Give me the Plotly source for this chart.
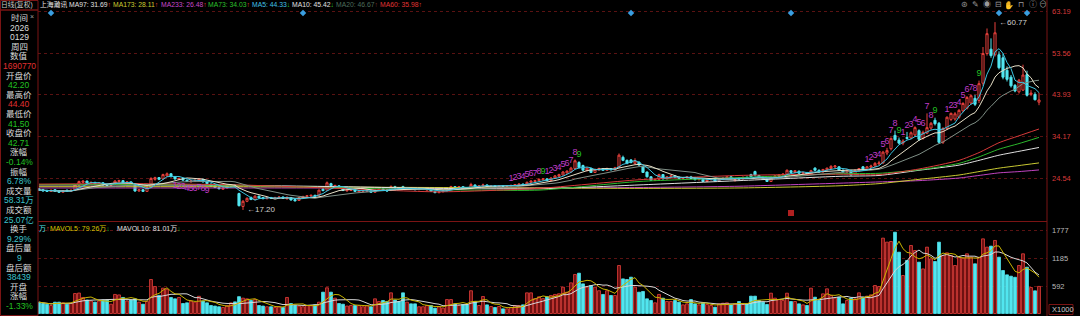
import plotly.graph_objects as go
import pandas as pd

W, H = 1080, 316

# ---------------- data ----------------
opens = [
    22.1, 21.9, 21.7, 21.5, 21.9, 21.6, 21.3, 21.8, 21.5, 21.8,
    23.0, 23.6, 23.9, 23.3, 23.6, 23.2, 23.5, 23.0, 22.9, 23.2,
    23.8, 24.0, 23.5, 23.7, 23.1, 21.6, 21.9, 21.5, 22.4, 24.3,
    24.7, 24.4, 25.1, 25.6, 24.9, 24.3, 24.5, 24.1, 23.7, 23.9,
    24.0, 24.3, 23.7, 23.2, 22.8, 22.4, 22.0, 22.3, 22.7, 23.0,
    21.0, 18.0, 19.2, 20.1, 19.6, 20.4, 20.1, 19.8, 20.1, 19.9,
    20.0, 20.2, 19.8, 20.0, 19.6, 19.4, 20.0, 20.3, 20.4, 20.6,
    20.6, 22.0, 21.8, 23.3, 22.6, 22.8, 22.2, 21.6, 21.7, 21.9,
    21.4, 21.5, 21.5, 21.6, 21.3, 21.8, 22.1, 21.8, 21.7, 22.6,
    22.4, 22.6, 22.0, 22.3, 22.1, 21.9, 22.0, 21.8, 21.9, 21.5,
    21.2, 21.4, 21.7, 22.3, 22.6, 22.4, 22.6, 22.4, 22.2, 23.0,
    22.6, 22.8, 23.0, 22.7, 22.8, 22.6, 22.8, 22.7, 22.8, 22.9,
    23.0, 23.2, 23.0, 23.6, 23.8, 24.0, 24.2, 24.4, 24.0, 24.6,
    25.0, 25.3, 25.8, 26.0, 26.8, 28.2, 27.5, 26.3, 26.8, 25.9,
    26.5, 26.8, 26.4, 26.8, 26.5, 27.1, 29.4, 28.7, 28.8, 28.0,
    28.3, 27.2, 26.0, 24.9, 24.1, 24.3, 25.4, 24.4, 24.9, 25.1,
    24.8, 24.5, 24.7, 24.9, 24.5, 24.2, 24.3, 23.8, 24.2, 24.3,
    23.9, 24.3, 24.5, 24.9, 24.0, 24.6, 24.4, 24.8, 25.4, 26.1,
    25.2, 24.8, 24.3, 23.8, 24.8, 25.0, 25.3, 25.5, 26.3, 25.9,
    26.2, 25.7, 25.9, 25.5, 26.9, 26.4, 26.0, 26.5, 26.8, 27.2,
    27.2, 26.4, 26.0, 26.3, 25.5, 26.3, 27.2, 26.6, 27.1, 27.4,
    27.9, 28.1, 30.4, 31.4, 34.5, 33.4, 32.7, 34.0, 33.9, 34.6,
    35.6, 33.8, 35.0, 36.2, 38.0, 37.3, 32.9, 36.1, 38.2, 38.3,
    38.7, 40.2, 40.8, 42.0, 43.1, 42.6, 46.6, 53.5, 54.5, 53.2,
    53.2, 52.5, 49.6, 48.0, 46.1, 44.6, 45.0, 48.6, 44.0, 44.0,
    42.20,
]
highs = [
    22.3, 22.1, 21.9, 21.9, 22.0, 21.8, 21.8, 21.9, 21.9, 23.2,
    24.0, 24.1, 24.0, 23.8, 23.7, 23.6, 23.6, 23.1, 23.3, 24.1,
    24.2, 24.1, 23.9, 23.8, 23.2, 22.0, 22.0, 22.5, 24.8, 24.9,
    24.8, 25.6, 25.9, 25.7, 25.0, 24.7, 24.6, 24.2, 24.1, 24.2,
    24.6, 24.4, 23.8, 23.3, 22.9, 22.5, 22.4, 22.8, 23.2, 23.1,
    21.2, 19.5, 20.1, 20.3, 20.6, 20.5, 20.2, 20.2, 20.2, 20.2,
    20.3, 20.3, 20.4, 20.1, 19.7, 20.1, 20.5, 20.6, 20.7, 20.7,
    21.9, 22.4, 23.8, 23.5, 23.0, 22.9, 22.3, 21.9, 22.0, 22.0,
    21.7, 21.7, 21.8, 21.7, 21.9, 22.2, 22.2, 21.9, 22.9, 22.8,
    22.5, 22.8, 22.4, 22.4, 22.2, 22.2, 22.2, 22.1, 22.0, 21.6,
    21.5, 21.7, 22.4, 22.8, 22.7, 22.7, 22.7, 22.5, 23.5, 23.1,
    22.9, 23.3, 23.1, 22.9, 22.9, 22.9, 22.9, 22.9, 23.0, 23.2,
    23.3, 23.3, 23.8, 24.1, 24.2, 24.5, 24.6, 24.6, 24.8, 25.3,
    25.6, 26.2, 26.4, 27.2, 28.9, 28.5, 27.7, 27.1, 27.0, 26.8,
    27.0, 26.9, 27.0, 26.9, 27.2, 30.3, 29.8, 28.9, 29.0, 29.2,
    28.4, 27.3, 26.1, 25.0, 24.4, 25.6, 25.5, 25.0, 25.3, 25.2,
    24.9, 24.8, 25.0, 25.1, 24.6, 24.5, 24.4, 24.3, 24.6, 24.4,
    24.4, 24.7, 25.0, 25.0, 24.3, 24.8, 24.9, 24.9, 25.6, 26.3,
    25.3, 24.9, 24.4, 25.0, 25.3, 25.5, 25.7, 26.6, 26.4, 26.4,
    26.3, 26.0, 26.0, 26.5, 27.1, 26.6, 26.7, 27.0, 27.6, 27.6,
    27.3, 26.6, 26.6, 26.5, 26.6, 26.9, 27.4, 27.4, 27.7, 28.3,
    28.6, 30.9, 31.6, 34.0, 35.6, 34.0, 33.6, 35.3, 35.4, 36.6,
    35.9, 35.6, 39.6, 37.6, 38.6, 37.6, 36.4, 38.9, 39.8, 39.9,
    40.6, 42.2, 43.6, 44.0, 43.9, 47.2, 55.0, 59.3, 57.0, 60.77,
    54.0, 53.5, 50.5, 48.5, 46.4, 47.6, 50.9, 49.5, 45.0, 44.5,
    44.40,
]
lows = [
    21.6, 21.5, 21.4, 21.4, 21.4, 21.2, 21.2, 21.4, 21.4, 21.7,
    22.9, 23.4, 23.3, 23.2, 23.1, 23.0, 22.9, 22.7, 22.8, 23.1,
    23.6, 23.4, 23.3, 23.0, 21.4, 21.4, 21.4, 21.4, 22.3, 24.0,
    24.1, 24.3, 24.9, 24.8, 24.2, 24.1, 24.0, 23.7, 23.6, 23.7,
    23.9, 23.6, 23.2, 22.6, 22.3, 22.0, 21.9, 22.2, 22.5, 22.4,
    18.0, 17.20, 19.0, 19.5, 19.5, 19.9, 19.7, 19.7, 19.8, 19.8,
    19.9, 19.8, 19.6, 19.4, 19.2, 19.3, 19.9, 20.2, 20.3, 20.3,
    20.5, 21.5, 21.7, 22.6, 22.4, 22.2, 21.6, 21.5, 21.6, 21.4,
    21.3, 21.3, 21.4, 21.2, 21.2, 21.6, 21.7, 21.5, 21.6, 22.2,
    22.0, 21.9, 21.9, 22.0, 21.8, 21.8, 21.9, 21.7, 21.4, 21.1,
    21.1, 21.3, 21.6, 22.2, 22.3, 22.3, 22.3, 22.1, 22.1, 22.5,
    22.5, 22.6, 22.6, 22.6, 22.5, 22.5, 22.6, 22.6, 22.7, 22.8,
    22.9, 22.9, 22.9, 23.4, 23.6, 23.8, 24.0, 23.9, 23.9, 24.5,
    24.8, 25.2, 25.6, 25.9, 26.6, 26.9, 26.3, 26.2, 25.8, 25.8,
    26.3, 26.3, 26.3, 26.4, 26.4, 27.0, 28.5, 27.8, 28.0, 27.9,
    27.5, 25.8, 24.7, 24.0, 23.9, 24.2, 24.3, 24.3, 24.7, 24.7,
    24.4, 24.4, 24.6, 24.4, 24.1, 24.1, 23.7, 23.7, 24.1, 23.8,
    23.8, 24.2, 24.4, 24.4, 23.8, 24.3, 24.3, 24.5, 24.8, 25.2,
    24.6, 24.3, 23.7, 23.7, 24.7, 24.9, 25.2, 25.4, 25.8, 25.8,
    25.6, 25.6, 25.4, 25.4, 26.3, 25.9, 25.9, 26.3, 26.6, 26.9,
    26.3, 25.9, 25.8, 25.1, 25.4, 26.1, 26.3, 26.5, 26.9, 27.2,
    27.6, 27.9, 29.9, 31.0, 33.2, 32.4, 32.2, 33.5, 33.6, 34.2,
    33.2, 33.5, 34.8, 35.8, 36.8, 32.6, 32.5, 35.8, 37.8, 37.9,
    38.4, 39.9, 40.5, 41.6, 41.3, 42.0, 46.0, 53.0, 52.5, 52.8,
    49.8, 47.5, 47.0, 45.6, 44.5, 44.2, 44.8, 43.5, 43.6, 42.6,
    41.50,
]
closes = [
    21.8, 21.6, 21.5, 21.8, 21.5, 21.3, 21.7, 21.5, 21.8, 23.0,
    23.8, 23.9, 23.4, 23.6, 23.2, 23.5, 23.0, 22.9, 23.2, 23.9,
    24.0, 23.5, 23.7, 23.1, 21.6, 21.9, 21.5, 22.4, 24.5, 24.7,
    24.3, 25.4, 25.6, 24.9, 24.4, 24.5, 24.1, 23.8, 24.0, 24.1,
    24.4, 23.7, 23.3, 22.7, 22.4, 22.1, 22.3, 22.7, 23.0, 22.6,
    18.2, 19.2, 19.9, 19.6, 20.4, 20.0, 19.8, 20.1, 19.9, 20.1,
    20.2, 19.9, 20.1, 19.5, 19.3, 20.0, 20.3, 20.5, 20.6, 20.4,
    21.8, 21.7, 23.5, 22.8, 22.9, 22.3, 21.7, 21.8, 21.9, 21.5,
    21.6, 21.6, 21.7, 21.3, 21.8, 22.1, 21.8, 21.6, 22.6, 22.3,
    22.1, 22.0, 22.3, 22.1, 21.9, 22.1, 22.1, 22.0, 21.5, 21.2,
    21.4, 21.6, 22.3, 22.6, 22.4, 22.6, 22.4, 22.2, 23.1, 22.6,
    22.8, 23.0, 22.7, 22.8, 22.6, 22.8, 22.7, 22.8, 22.9, 23.1,
    23.2, 23.0, 23.6, 23.9, 24.0, 24.3, 24.4, 24.0, 24.6, 25.1,
    25.4, 26.0, 26.2, 26.9, 28.6, 27.0, 26.4, 26.9, 25.9, 26.6,
    26.8, 26.4, 26.8, 26.5, 27.0, 29.9, 28.7, 28.0, 28.2, 28.6,
    27.6, 25.9, 24.9, 24.1, 24.3, 25.4, 24.4, 24.9, 25.1, 24.8,
    24.5, 24.7, 24.9, 24.5, 24.2, 24.4, 23.8, 24.2, 24.5, 23.9,
    24.3, 24.6, 24.9, 24.5, 24.2, 24.4, 24.8, 24.6, 24.9, 25.3,
    24.7, 24.4, 23.8, 24.8, 25.1, 25.3, 25.5, 26.4, 25.9, 26.3,
    25.7, 25.9, 25.5, 26.3, 26.4, 26.0, 26.6, 26.9, 27.3, 27.4,
    26.4, 26.0, 26.4, 25.4, 26.4, 26.8, 26.5, 27.2, 27.4, 28.0,
    28.1, 30.6, 31.0, 33.8, 33.5, 32.7, 33.2, 33.8, 35.1, 36.3,
    33.6, 35.2, 36.3, 37.3, 37.2, 32.9, 36.1, 38.7, 39.6, 39.5,
    40.3, 41.9, 43.3, 43.7, 41.7, 46.5, 53.5, 58.1, 53.0, 58.3,
    50.2, 48.0, 47.5, 46.0, 44.8, 47.3, 48.5, 43.8, 44.3, 42.77,
    42.71,
]
volumes = [
    243, 215, 200, 172, 244, 244, 230, 200, 220, 430,
    440, 345, 290, 270, 244, 270, 290, 290, 200, 410,
    400, 345, 270, 290, 316, 244, 200, 260, 732, 580,
    390, 545, 520, 345, 316, 345, 215, 230, 270, 244,
    370, 270, 230, 172, 160, 145, 130, 172, 230, 250,
    362, 330, 316, 280, 300, 172, 160, 145, 145, 130,
    145, 130, 345, 215, 172, 160, 145, 172, 172, 186,
    244, 459, 553, 459, 330, 215, 200, 160, 172, 172,
    172, 145, 172, 145, 316, 259, 280, 259, 445, 290,
    259, 445, 244, 208, 208, 145, 145, 172, 172, 115,
    145, 115, 300, 300, 208, 172, 194, 194, 490, 259,
    172, 366, 186, 150, 130, 150, 100, 100, 130, 172,
    172, 186, 445, 445, 320, 360, 320, 360, 388, 410,
    425, 567, 459, 660, 840, 868, 638, 567, 603, 567,
    490, 410, 490, 388, 388, 1033, 745, 732, 782, 567,
    459, 474, 316, 280, 230, 410, 330, 259, 259, 280,
    244, 186, 208, 300, 208, 186, 230, 194, 172, 136,
    208, 222, 230, 186, 208, 258, 194, 208, 373, 373,
    280, 244, 194, 437, 330, 301, 280, 437, 258, 258,
    208, 186, 172, 545, 351, 280, 423, 531, 387, 330,
    351, 208, 280, 330, 316, 445, 351, 373, 402, 603,
    581, 1622, 1536, 1550, 1750, 1320, 818, 1141, 1464, 1356,
    1105, 960, 1428, 1177, 1120, 1536, 1248, 1306, 1248, 1033,
    1212, 1190, 1285, 1212, 1070, 1212, 1607, 1428, 1450, 1572,
    1212, 925, 832, 803, 780, 1033, 1285, 997, 560, 488,
    583,
]

# long moving averages at sample candles
ma_idx = [0, 25, 50, 75, 100, 125, 150, 175, 200, 210, 220, 230, 235, 240, 245, 250]
ma60 = [23.2, 23.3, 23.0, 22.2, 21.4, 22.2, 24.2, 25.2, 25.5, 25.4, 26.7, 28.7, 30.5, 32.8, 34.4, 35.98]
ma73 = [23.1, 23.1, 22.9, 22.3, 21.9, 21.8, 23.8, 24.7, 25.6, 25.7, 26.5, 28.0, 29.5, 31.3, 32.6, 34.03]
ma97 = [23.0, 23.0, 22.9, 22.6, 22.2, 22.1, 23.0, 24.0, 25.0, 25.2, 26.4, 27.6, 28.7, 29.9, 30.8, 31.69]
ma173 = [22.6, 22.6, 22.6, 22.5, 22.4, 22.3, 22.2, 22.3, 22.8, 23.3, 24.3, 25.3, 26.1, 26.9, 27.5, 28.11]
ma233 = [22.3, 22.3, 22.3, 22.3, 22.3, 22.3, 22.4, 22.7, 23.4, 23.7, 24.0, 24.6, 25.2, 25.8, 26.1, 26.48]

price_ticks = [63.19, 53.56, 43.93, 34.17, 24.54]
vol_ticks = [1777, 1185, 592]

td_up_starts = [118, 127, 207, 216, 227]
td_down_starts = [34]
event_idx = [3, 66, 148, 188, 240, 247]
hi_idx, lo_idx = 239, 51

legend_texts = ["日线(复权)", "上海瀚讯", "MA97: 31.69", "MA173: 28.11", "MA233: 26.48",
                "MA73: 34.03", "MA5: 44.33", "MA10: 45.42", "MA20: 46.67", "MA60: 35.98"]
legend_arrows = ["", "", "↑", "↑", "↑", "↑", "↓", "↓", "↑", "↑"]

left_labels = ["时间", "2026", "0129", "周四", "数值", "1690770", "开盘价", "42.20", "最高价", "44.40",
               "最低价", "41.50", "收盘价", "42.71", "涨幅", "-0.14%", "振幅", "6.78%", "成交量", "58.31万",
               "成交额", "25.07亿", "换手", "9.29%", "盘后量", "9", "盘后额", "38439", "开盘", "涨幅", "-1.33%"]

# ---------------- styling ----------------
FONT = "Liberation Sans, Noto Sans CJK SC, sans-serif"
RED = "#e8403c"
CYAN = "#52e6f0"
GREEN = "#22c022"
BORDER = "#7a1414"
GRID = "#5a1212"

def fx(p):
    return p / W

def fy(p):
    return 1 - p / H

PL, PR = 38, 1047
PT, PB = 9, 220
VT, VB = 222, 315
K = (63.19 - 24.54) / (178.3 - 11.7)
y_hi = 63.19 + (11.7 - PT) * K
y_lo = 24.54 - (PB - 178.3) * K
VK = 592 / 27.5
v_hi = (313.5 - VT) * VK
v_lo = (313.5 - VB) * VK
x_lo = -0.25
x_hi = x_lo + (PR - PL) / 4.0

n = len(closes)
x = list(range(n))
cs = pd.Series(closes)
vs = pd.Series(volumes)

fig = go.Figure()

# long MAs
for vals, col in [(ma233, "#c044c0"), (ma173, "#c8c832"), (ma97, "#e0e0e0"),
                  (ma73, "#2cb82c"), (ma60, "#d83a3a")]:
    fig.add_trace(go.Scatter(x=ma_idx, y=vals, mode="lines", line=dict(color=col, width=1, shape="spline", smoothing=0.6),
                             hoverinfo="skip", showlegend=False))
# short MAs
for win, col in [(20, "#7f8f86"), (10, "#e8e0c8"), (5, "#3cc4e0")]:
    fig.add_trace(go.Scatter(x=x, y=cs.rolling(win, min_periods=1).mean(), mode="lines",
                             line=dict(color=col, width=1), hoverinfo="skip", showlegend=False))

fig.add_trace(go.Candlestick(
    x=x, open=opens, high=highs, low=lows, close=closes,
    increasing=dict(line=dict(color=RED, width=1), fillcolor="#000000"),
    decreasing=dict(line=dict(color=CYAN, width=1), fillcolor=CYAN),
    whiskerwidth=0, hoverinfo="skip", showlegend=False))

# TD sequence numbers
tx, ty, tt, tc = [], [], [], []
for s in td_up_starts:
    for k in range(9):
        i = s + k
        tx.append(i)
        ty.append(highs[i] + 1.5)
        tt.append(str(k + 1))
        tc.append(GREEN if k == 8 else "#c03cc8")
for s in td_down_starts:
    for k in range(9):
        i = s + k
        tx.append(i)
        ty.append(lows[i] - 1.5)
        tt.append(str(k + 1))
        tc.append("#c03cc8")
fig.add_trace(go.Scatter(x=tx, y=ty, text=tt, mode="text", textposition="middle center",
                         textfont=dict(color=tc, size=9, family=FONT), hoverinfo="skip", showlegend=False))

# event diamonds
fig.add_trace(go.Scatter(x=event_idx, y=[y_hi - 4 * K] * len(event_idx), mode="markers",
                         marker=dict(symbol="diamond", size=5, color="#3a9ee0"), hoverinfo="skip", showlegend=False))
fig.add_trace(go.Scatter(x=[188], y=[y_lo + 7 * K], mode="markers",
                         marker=dict(symbol="square", size=6, color="#b02020"), hoverinfo="skip", showlegend=False))

# volume
vcol = [RED if c >= o else CYAN for o, c in zip(opens, closes)]
vfill = ["#6a1010" if c >= o else CYAN for o, c in zip(opens, closes)]
fig.add_trace(go.Bar(x=x, y=volumes, width=0.72, marker=dict(color=vfill, line=dict(color=vcol, width=0.8)),
                     xaxis="x2", yaxis="y2", hoverinfo="skip", showlegend=False))
fig.add_trace(go.Scatter(x=x, y=vs.rolling(10, min_periods=1).mean(), mode="lines", line=dict(color="#d8d8d8", width=1),
                         xaxis="x2", yaxis="y2", hoverinfo="skip", showlegend=False))
fig.add_trace(go.Scatter(x=x, y=vs.rolling(5, min_periods=1).mean(), mode="lines", line=dict(color="#c8b400", width=1),
                         xaxis="x2", yaxis="y2", hoverinfo="skip", showlegend=False))

ann = []

def text(t, xp, yp, color, size=9, xanchor="left", family=FONT):
    ann.append(dict(text=t, x=fx(xp), y=fy(yp), xref="paper", yref="paper", xanchor=xanchor, yanchor="middle",
                    showarrow=False, borderpad=0, font=dict(color=color, size=size, family=family)))

# top legend
leg_x = [0, 39, 68, 112, 160, 207, 251, 291, 335, 379]
leg_c = ["#c8c8c8", "#e8e8e8", "#e0e0e0", "#cccc30", "#c848c8", "#2cc02c", "#40c0e8", "#e0e0e0", "#4c6e5c", "#e03434"]
for t, a, xp, c in zip(legend_texts, legend_arrows, leg_x, leg_c):
    ac = RED if a == "↑" else GREEN
    if t.startswith("MA20"):
        ac = "#7a3030"
    s = t + (f"<span style='color:{ac}'>{a}</span>" if a else "")
    text(s, xp, 5, c, size=6.8)

# volume legend
text(f"<span style='color:{CYAN}'>万</span><span style='color:{RED}'>↑</span>", 38, 229, CYAN, size=7)
text(f"MAVOL5: 79.26万<span style='color:{GREEN}'>↓</span>", 49, 229, "#d8c800", size=7)
text(f"MAVOL10: 81.01万<span style='color:{GREEN}'>↓</span>", 116, 229, "#e0e0e0", size=7)

# left info panel
for k, t in enumerate(left_labels):
    yp = 18 + k * 9.6
    if k < 5 or (k % 2 == 0 and k < 28) or k in (28, 29):
        c = "#dcdcdc"
    elif t.startswith("-") or t in ("42.20", "41.50", "42.71"):
        c = GREEN
    elif t in ("1690770", "44.40"):
        c = "#e03030"
    else:
        c = "#3cc4cc"
    text(t, 19, yp, c, size=8.5, xanchor="center")
text("×", 32, 17, "#a0a0a0", size=7, xanchor="center")

# right axis labels
for v in price_ticks:
    ann.append(dict(text=f"{v:.2f}", x=fx(1051), y=v, xref="paper", yref="y", xanchor="left", yanchor="middle",
                    showarrow=False, borderpad=0, font=dict(color="#d83a3a", size=7.5, family=FONT)))
for v in vol_ticks:
    ann.append(dict(text=str(v), x=fx(1051), y=v, xref="paper", yref="y2", xanchor="left", yanchor="middle",
                    showarrow=False, borderpad=0, font=dict(color="#b8b8b8", size=7.5, family=FONT)))
text("X1000", 1051, 309.5, "#c8c8c8", size=7.5)

# high / low marks
ann.append(dict(text="←" + f"{highs[hi_idx]:.2f}", x=hi_idx + 0.6, y=highs[hi_idx], xref="x", yref="y",
                xanchor="left", yanchor="middle", showarrow=False, font=dict(color="#d0d0d0", size=8, family=FONT)))
ann.append(dict(text="←" + f"{lows[lo_idx]:.2f}", x=lo_idx + 0.6, y=lows[lo_idx], xref="x", yref="y",
                xanchor="left", yanchor="middle", showarrow=False, font=dict(color="#d0d0d0", size=8, family=FONT)))

# top-right toolbar glyphs
for k, g in enumerate(["⊛", "✎", "◉", "⊟", "✋", "⊓", "ⓘ", "⊖"]):
    text(g, [964, 975, 987, 998, 1009, 1021, 1033, 1043][k], 5, "#9a9a9a", size=8, xanchor="center")

shapes = [
    dict(type="rect", xref="paper", yref="paper", x0=fx(0.5), x1=fx(PL), y0=fy(315.5), y1=fy(10), line=dict(color=BORDER, width=1)),
    dict(type="rect", xref="paper", yref="paper", x0=fx(0.5), x1=fx(PL), y0=fy(10), y1=fy(0.5), line=dict(color=BORDER, width=1)),
    dict(type="line", xref="paper", yref="paper", x0=fx(PR), x1=fx(PR), y0=0, y1=1, line=dict(color=BORDER, width=1)),
    dict(type="line", xref="paper", yref="paper", x0=fx(PL), x1=fx(PR), y0=fy(221.5), y1=fy(221.5), line=dict(color=BORDER, width=1)),
    dict(type="rect", xref="paper", yref="paper", x0=fx(1049), x1=fx(1073), y0=fy(314.5), y1=fy(304.5), line=dict(color=BORDER, width=1)),
]

fig.update_layout(
    width=W, height=H, autosize=False, margin=dict(l=0, r=0, t=0, b=0),
    paper_bgcolor="#000000", plot_bgcolor="#000000", showlegend=False, boxgap=0.25,
    annotations=ann, shapes=shapes,
    xaxis=dict(domain=[fx(PL), fx(PR)], range=[x_lo, x_hi], showticklabels=False, showgrid=False, zeroline=False,
               rangeslider=dict(visible=False), fixedrange=True, anchor="y"),
    yaxis=dict(domain=[fy(PB), fy(PT)], range=[y_lo, y_hi], tickvals=price_ticks, showticklabels=False, showgrid=True,
               gridcolor=GRID, griddash="dot", gridwidth=1, zeroline=False, fixedrange=True, anchor="x"),
    xaxis2=dict(domain=[fx(PL), fx(PR)], range=[x_lo, x_hi], showticklabels=False, showgrid=False, zeroline=False,
                fixedrange=True, anchor="y2"),
    yaxis2=dict(domain=[fy(VB), fy(VT)], range=[v_lo, v_hi], tickvals=vol_ticks, showticklabels=False, showgrid=True,
                gridcolor=GRID, griddash="dot", gridwidth=1, zeroline=False, fixedrange=True, anchor="x2"),
)

fig.write_html("out.html")
